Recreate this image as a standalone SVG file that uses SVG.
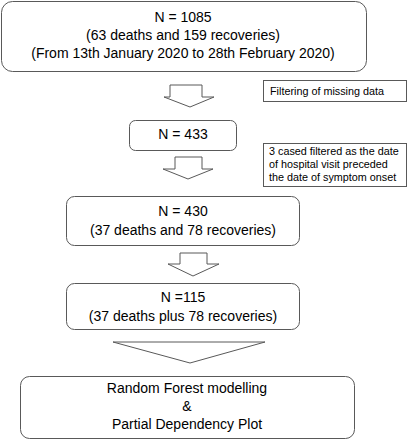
<svg xmlns="http://www.w3.org/2000/svg" width="408" height="440" viewBox="0 0 408 440">
<style>
.box{fill:#fff;stroke:#595959;stroke-width:1}
.note{fill:#fff;stroke:#595959;stroke-width:1}
.arr{fill:#fff;stroke:#595959;stroke-width:1;stroke-linejoin:miter}
.t{font-family:"Liberation Sans",Arial,sans-serif;font-size:14px;fill:#000;text-anchor:middle}
.n{font-family:"Liberation Sans",Arial,sans-serif;font-size:10.8px;fill:#000}
</style>
<rect width="408" height="440" fill="#fff"/>
<g id="connectors">
<polygon class="arr" points="170,85 202,85 202,97 214,97 190,107 164,97 170,97"/>
<polygon class="arr" points="175,157 202,157 202,169 213,169 188,179 163,169 175,169"/>
<polygon class="arr" points="180,253 207,253 207,264 219,264 193,276 168,264 180,264"/>
<polygon class="arr" points="113,342 265,342 190,363"/>
</g>
<g id="n1085">
<rect class="box" x="1.5" y="1.5" width="365" height="70" rx="11"/>
<text class="t" x="183" y="22">N = 1085</text>
<text class="t" x="183" y="40">(63 deaths and 159 recoveries)</text>
<text class="t" x="183" y="58">(From 13th January 2020 to 28th February 2020)</text>
</g>
<g id="filter1">
<rect class="note" x="263.5" y="80.5" width="143" height="21"/>
<text class="n" x="270" y="95">Filtering of missing data</text>
</g>
<g id="n433">
<rect class="box" x="129.5" y="120.5" width="107" height="30" rx="6"/>
<text class="t" x="183" y="139">N = 433</text>
</g>
<g id="filter2">
<rect class="note" x="263.5" y="143.5" width="143" height="43"/>
<text class="n" x="269" y="155">3 cased filtered as the date</text>
<text class="n" x="269" y="168">of hospital visit preceded</text>
<text class="n" x="269" y="181">the date of symptom onset</text>
</g>
<g id="n430">
<rect class="box" x="66.5" y="196.5" width="233" height="49" rx="8"/>
<text class="t" x="183" y="216">N = 430</text>
<text class="t" x="183" y="235">(37 deaths and 78 recoveries)</text>
</g>
<g id="n115">
<rect class="box" x="66.5" y="283.5" width="233" height="46" rx="8"/>
<text class="t" x="183" y="302">N =115</text>
<text class="t" x="183" y="321">(37 deaths plus 78 recoveries)</text>
</g>
<g id="rf">
<rect class="box" x="20.5" y="376.5" width="334" height="62" rx="9"/>
<text class="t" x="187" y="393">Random Forest modelling</text>
<text class="t" x="187" y="411">&amp;</text>
<text class="t" x="187" y="429">Partial Dependency Plot</text>
</g>
</svg>
